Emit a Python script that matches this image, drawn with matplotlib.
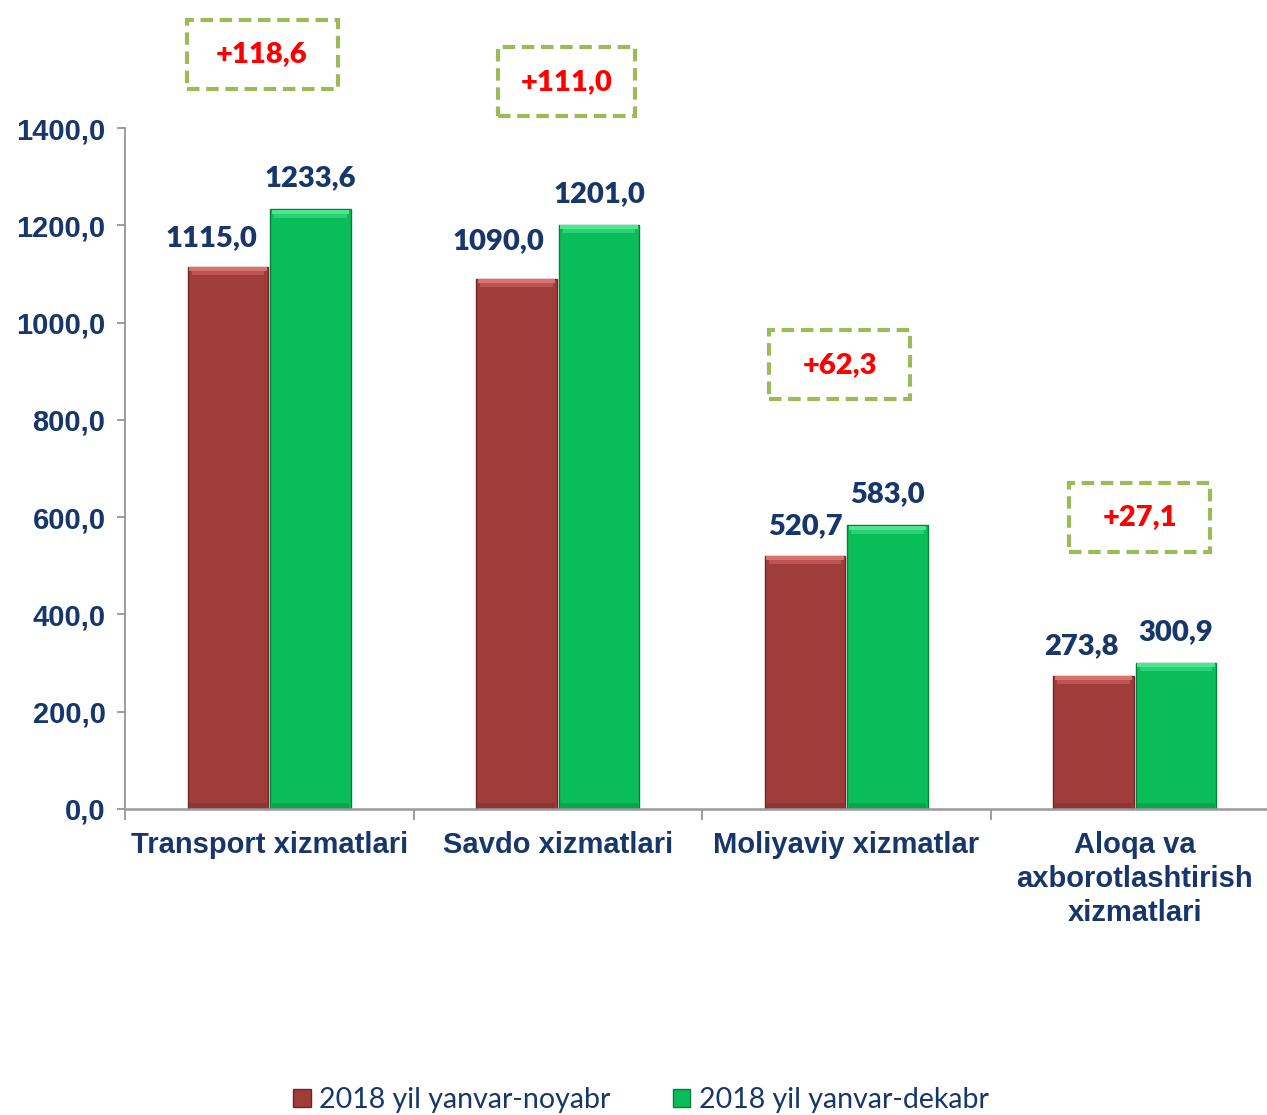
import matplotlib
matplotlib.use("Agg")
import matplotlib.pyplot as plt
from matplotlib.patches import Rectangle, Patch
import numpy as np

categories = ["Transport xizmatlari", "Savdo xizmatlari", "Moliyaviy xizmatlar",
              "Aloqa va\naxborotlashtirish\nxizmatlari"]
series_names = ["2018 yil yanvar-noyabr", "2018 yil yanvar-dekabr"]
nov = [1115.0, 1090.0, 520.7, 273.8]
dec = [1233.6, 1201.0, 583.0, 300.9]
diffs = [118.6, 111.0, 62.3, 27.1]
yticks = [0, 200, 400, 600, 800, 1000, 1200, 1400]

def fmt(v):
    return f"{v:.1f}".replace(".", ",")

W, H = 1267, 1115
PX_X = 288.5          # pixels per category unit
PX_Y = 681 / 1400     # pixels per value unit
fig = plt.figure(figsize=(W/100, H/100), dpi=100)
ax = fig.add_axes([125/W, 1-809/H, (W-125)/W, (809-128)/H])

navy = "#17366A"
red = "#A03D3B"
green = "#09BD59"
x = np.arange(len(categories))
bw = 0.28
off = 0.143

def bevel_bars(xpos, vals, main, light1, light2, dark, edge):
    vals = np.asarray(vals)
    ax.bar(xpos, vals, bw, color=main, edgecolor=edge, linewidth=1.0, zorder=3)
    b1 = 4 / PX_Y
    b2 = 4 / PX_Y
    ax.bar(xpos, b1, bw * 0.96, bottom=vals - b1 - 0.6 / PX_Y, color=light1, linewidth=0, zorder=4)
    ax.bar(xpos, b2, bw * 0.9, bottom=vals - b1 - b2 - 0.6 / PX_Y, color=light2, linewidth=0, zorder=4)
    ax.bar(xpos, 5 / PX_Y, bw * 0.96, bottom=1 / PX_Y, color=dark, linewidth=0, zorder=4)

bevel_bars(x - off, nov, red, "#D9716D", "#BC5552", "#8E3533", "#6E2624")
bevel_bars(x + off, dec, green, "#4DE690", "#2AD275", "#07A64D", "#05803B")

for s in ["top", "right"]:
    ax.spines[s].set_visible(False)
ax.spines["left"].set_color("#8C8C8C")
ax.spines["left"].set_linewidth(1.2)
ax.spines["bottom"].set_color("#9A9A9A")
ax.spines["bottom"].set_linewidth(1.8)
ax.spines["bottom"].set_zorder(5)

ax.set_yticks(yticks)
ax.set_yticklabels([fmt(v) for v in yticks], fontsize=21, fontweight="bold",
                   color=navy, family="Liberation Sans")
ax.tick_params(axis="y", length=6, width=1.2, color="#8C8C8C", pad=8)

ax.set_xticks(x)
ax.set_xticklabels(categories, fontsize=21, fontweight="bold", color=navy,
                   family="Liberation Sans", linespacing=1.27, va="top")
ax.tick_params(axis="x", which="major", length=0, pad=16)
ax.set_xticks(np.arange(-0.5, len(categories)), minor=True)
ax.tick_params(axis="x", which="minor", length=8, width=1.2, color="#8C8C8C")

ax.set_xlim(-0.5, -0.5 + (W-125)/PX_X)
ax.set_ylim(0, 1400)

# value labels (pixel offsets to mimic Excel placement)
red_dx = [-17, -18, 0, -12]
red_dy = [29, 38, 30, 30]
for i in range(len(categories)):
    ax.annotate(fmt(nov[i]), (x[i] - off, nov[i]), xytext=(red_dx[i], red_dy[i]),
                textcoords="offset pixels", ha="center", va="center",
                fontsize=21, fontweight="heavy", color=navy, family="Lato")
    ax.annotate(fmt(dec[i]), (x[i] + off, dec[i]), xytext=(0, 31),
                textcoords="offset pixels", ha="center", va="center",
                fontsize=21, fontweight="heavy", color=navy, family="Lato")

# difference boxes
box_pos = [(-0.025, 1552), (1.032, 1495), (1.978, 913), (3.018, 600)]
box_w = [151, 137, 141, 141]
box_h = 69
for (bx, by), bwid, d in zip(box_pos, box_w, diffs):
    w = bwid / PX_X
    h = box_h / PX_Y
    ax.add_patch(Rectangle((bx - w/2, by - h/2), w, h, fill=False, ec="#9BBB59",
                           lw=3, ls=(0, (3, 1.6)), clip_on=False, zorder=4))
    ax.text(bx, by, "+" + fmt(d), ha="center", va="center", fontsize=21,
            fontweight="heavy", color="#FF0000", family="Lato", clip_on=False, zorder=5)

# legend
handles = [Patch(fc=red, ec="#6E2624"), Patch(fc=green, ec="#05803B")]
leg = fig.legend(handles, series_names, loc="center", bbox_to_anchor=(641/W, 1-1100/H),
                 ncol=2, frameon=False, prop=dict(family="Lato", size=20.5),
                 handlelength=0.6, handleheight=0.6, columnspacing=2.2, handletextpad=0.3)
for t in leg.get_texts():
    t.set_color(navy)

fig.savefig("out.png", dpi=100)
